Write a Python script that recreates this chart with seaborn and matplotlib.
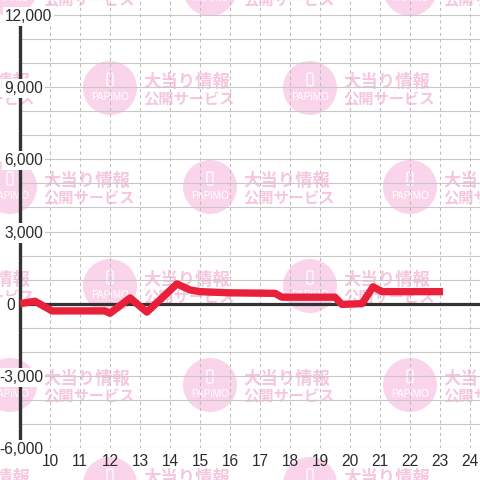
import pandas as pd
import seaborn as sns
import matplotlib.pyplot as plt
from matplotlib.patches import Circle, FancyBboxPatch

# slump data (hour of day, difference in balls)
hours = [9.0, 9.5, 10.07, 11.83, 12.0, 12.67, 13.23, 14.23, 14.67, 15.0,
         16.0, 17.5, 17.73, 19.5, 19.73, 20.4, 20.77, 21.07, 23.1]
diff = [0, 100, -300, -300, -400, 240, -350, 820, 570, 500,
        450, 430, 270, 270, -30, 0, 700, 500, 500]

x_ticks = list(range(10, 25))
y_ticks = [-6000, -3000, 0, 3000, 6000, 9000, 12000]
y_grid = list(range(-6000, 12001, 1000))

df = pd.DataFrame({"hour": hours, "diff": diff})

sns.set_theme(style="white")
plt.rcParams["font.family"] = ["Liberation Sans", "Noto Sans CJK JP", "DejaVu Sans"]

fig = plt.figure(figsize=(4.8, 4.8), dpi=100)
fig.patch.set_facecolor("white")

# watermark in pixel coordinates
bg = fig.add_axes([0, 0, 1, 1], zorder=-1)
bg.set_xlim(0, 480)
bg.set_ylim(480, 0)
bg.axis("off")
pink = "#fad4ea"
for row in range(6):
    cy = -11 + 99 * row
    x0 = 10 if row % 2 == 0 else -90
    for cx in range(x0, 520, 200):
        bg.add_patch(Circle((cx, cy), 27, fc=pink, ec="none"))
        bg.add_patch(FancyBboxPatch((cx - 3, cy - 15), 6, 13,
                                    boxstyle="round,pad=0,rounding_size=1.5",
                                    fc="none", ec="white", lw=0.9))
        bg.text(cx, cy + 9, "PAPiMO", color="white", fontsize=7.2,
                ha="center", va="center")
        bg.text(cx + 33, cy - 6, "大当り情報", color="#f6c6df", fontsize=12.5,
                ha="left", va="center", fontweight="bold",
                family=["Noto Sans CJK JP"])
        bg.text(cx + 33, cy + 11, "公開サービス", color="#f6c6df", fontsize=11,
                ha="left", va="center", fontweight="bold",
                family=["Noto Sans CJK JP"])

ax = fig.add_axes([20 / 480, 32 / 480, 460 / 480, 448 / 480])
ax.set_facecolor("none")
ax.set_xlim(9, 9 + 460 / 30)
ax.set_ylim(-6000, -6000 + 448 * 18000 / 433)

for v in y_grid:
    ax.axhline(v, color="#c8c8c8", lw=0.8, zorder=1)
for h in x_ticks:
    ax.axvline(h, color="#bdbdbd", lw=0.75, ls=(0, (3, 3)), zorder=1)
ax.axhline(0, color="#333333", lw=2.3, zorder=2.2)

sns.lineplot(data=df, x="hour", y="diff", ax=ax, sort=False,
             color="#e8203a", lw=5.3, zorder=3,
             solid_joinstyle="round", solid_capstyle="butt")

for side in ["top", "right", "bottom"]:
    ax.spines[side].set_visible(False)
ax.spines["left"].set_color("#333333")
ax.spines["left"].set_linewidth(2.4)
ax.spines["left"].set_bounds(-6000, 12000)
ax.spines["left"].set_zorder(2)

ax.set_xticks(x_ticks)
ax.set_xticklabels([str(h) for h in x_ticks])
ax.set_yticks(y_ticks)
ax.set_yticklabels([f"{v:,}" for v in y_ticks])
ax.tick_params(axis="both", length=0, labelsize=11.2, labelcolor="#2b2b2b")
ax.tick_params(axis="x", pad=4.5)
ax.tick_params(axis="y", pad=-16.5)
ax.set_axisbelow(False)
ax.set_xlabel("")
ax.set_ylabel("")

for lab in ax.get_yticklabels():
    lab.set_bbox(dict(fc="white", ec="none", pad=1.5))
    if lab.get_text() == "12,000":
        lab.set_x(9 / 460)
    elif lab.get_text() == "0":
        lab.set_x(-28 / 460)

fig.savefig("out.png", dpi=100)
